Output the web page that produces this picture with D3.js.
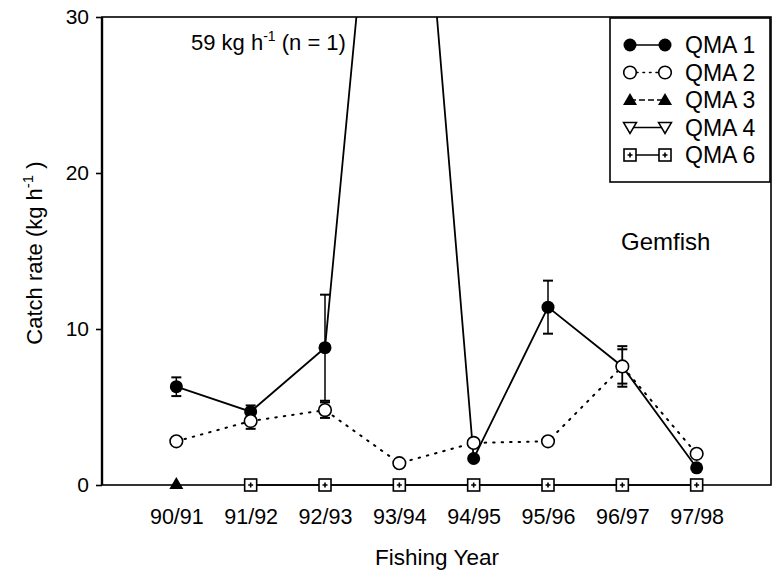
<!DOCTYPE html>
<html>
<head>
<meta charset="utf-8">
<script src="https://cdn.jsdelivr.net/npm/d3@7/dist/d3.min.js"></script>
<style>
  html, body { margin: 0; padding: 0; background: #fff; }
  svg { display: block; font-family: "Liberation Sans", Arial, sans-serif; }
</style>
</head>
<body>
<svg id="chart" width="774" height="570"></svg>
<script>
// Fishing years on the x axis
const years = ["90/91", "91/92", "92/93", "93/94", "94/95", "95/96", "96/97", "97/98"];
// Mean catch rate (kg/h) per QMA, null where there is no estimate
const qma1 = [6.3, 4.7, 8.8, 59, 1.7, 11.4, 7.6, 1.1];
const qma1Err = [0.6, 0.4, 3.4, null, null, 1.7, 1.3, null];
const qma2 = [2.8, 4.1, 4.8, 1.4, 2.7, 2.8, 7.6, 2.0];
const qma2Err = [null, 0.5, 0.5, null, null, null, 1.1, null];
const qma3 = [0, null, null, null, null, null, null, null];
const qma4 = [null, null, null, null, null, null, null, null];
const qma6 = [null, 0, 0, 0, 0, 0, 0, 0];
const yTicks = [0, 10, 20, 30];
const legendLabels = ["QMA 1", "QMA 2", "QMA 3", "QMA 4", "QMA 6"];

const svg = d3.select("#chart");
const plotLeft = 102, plotRight = 771, plotTop = 17, plotBottom = 485;

const x = d3.scaleLinear().domain([-1, years.length]).range([plotLeft, plotRight]);
const y = d3.scaleLinear().domain([0, 30]).range([plotBottom, plotTop]);

// clip region for the plotted series
svg.append("defs").append("clipPath").attr("id", "plotClip")
  .append("rect").attr("x", plotLeft).attr("y", plotTop)
  .attr("width", plotRight - plotLeft).attr("height", plotBottom - plotTop + 10);

// frame
svg.append("rect").attr("x", plotLeft).attr("y", plotTop)
  .attr("width", plotRight - plotLeft).attr("height", plotBottom - plotTop)
  .attr("fill", "none").attr("stroke", "#000").attr("stroke-width", 1.6);
svg.append("line").attr("x1", plotLeft).attr("x2", plotLeft).attr("y1", plotTop).attr("y2", plotBottom)
  .attr("stroke", "#000").attr("stroke-width", 2.4);

// y axis
const yAxis = d3.axisLeft(y).tickValues(yTicks).tickSize(6).tickPadding(7).tickFormat(d3.format("d"));
const gy = svg.append("g").attr("transform", `translate(${plotLeft},0)`).call(yAxis);
gy.select(".domain").remove();
gy.selectAll(".tick line").attr("stroke-width", 1.6);
gy.selectAll(".tick text").attr("font-size", 21).attr("font-family", "Liberation Sans, Arial, sans-serif").attr("fill", "#000");

// x axis
const xAxis = d3.axisBottom(x).tickValues(d3.range(years.length)).tickFormat(i => years[i]).tickSize(4).tickPadding(20);
const gx = svg.append("g").attr("transform", `translate(0,${plotBottom})`).call(xAxis);
gx.select(".domain").remove();
gx.selectAll(".tick line").attr("stroke-width", 1.4);
gx.selectAll(".tick text").attr("font-size", 21.5).attr("font-family", "Liberation Sans, Arial, sans-serif").attr("fill", "#000");

// axis titles
svg.append("text").attr("x", 437).attr("y", 565).attr("text-anchor", "middle")
  .attr("font-size", 22.5).text("Fishing Year");
const yt = svg.append("text").attr("transform", "translate(42,253) rotate(-90)")
  .attr("text-anchor", "middle").attr("font-size", 22);
yt.append("tspan").text("Catch rate (kg h");
yt.append("tspan").attr("dy", -9).attr("font-size", 15).text("-1");
yt.append("tspan").attr("dy", 9).text(" )");

const plot = svg.append("g").attr("clip-path", "url(#plotClip)");

function seriesLine(values) {
  return d3.line().defined(d => d != null).x((d, i) => x(i)).y(d => y(d))(values);
}
function errorBars(values, errs) {
  values.forEach((v, i) => {
    const e = errs[i];
    if (v == null || e == null) return;
    const g = plot.append("g").attr("stroke", "#000").attr("stroke-width", 1.5);
    g.append("line").attr("x1", x(i)).attr("x2", x(i)).attr("y1", y(v - e)).attr("y2", y(v + e));
    [v - e, v + e].forEach(w => g.append("line").attr("x1", x(i) - 5).attr("x2", x(i) + 5)
      .attr("y1", y(w)).attr("y2", y(w)).attr("stroke-width", 2));
  });
}

// symbol drawers (used for both the plot and the legend)
function drawFilledCircle(g, cx, cy) {
  g.append("circle").attr("cx", cx).attr("cy", cy).attr("r", 6.5).attr("fill", "#000");
}
function drawOpenCircle(g, cx, cy) {
  g.append("circle").attr("cx", cx).attr("cy", cy).attr("r", 6.3).attr("fill", "#fff")
    .attr("stroke", "#000").attr("stroke-width", 1.6);
}
function drawTriangleUp(g, cx, cy) {
  g.append("path").attr("d", `M${cx},${cy - 7} L${cx + 7},${cy + 5} L${cx - 7},${cy + 5} Z`).attr("fill", "#000");
}
function drawTriangleDown(g, cx, cy) {
  g.append("path").attr("d", `M${cx - 6.5},${cy - 5} L${cx + 6.5},${cy - 5} L${cx},${cy + 6} Z`)
    .attr("fill", "#fff").attr("stroke", "#000").attr("stroke-width", 1.5);
}
function drawBoxCross(g, cx, cy) {
  g.append("rect").attr("x", cx - 6).attr("y", cy - 6).attr("width", 12).attr("height", 12)
    .attr("fill", "#fff").attr("stroke", "#000").attr("stroke-width", 1.6);
  g.append("path").attr("d", `M${cx - 2.5},${cy} H${cx + 2.5} M${cx},${cy - 2.5} V${cy + 2.5}`)
    .attr("stroke", "#000").attr("stroke-width", 1.6);
}

// QMA 6 along zero
plot.append("path").attr("d", seriesLine(qma6)).attr("fill", "none").attr("stroke", "#000").attr("stroke-width", 1.6);
// QMA 3 / QMA 4 lines
plot.append("path").attr("d", seriesLine(qma3)).attr("fill", "none").attr("stroke", "#000").attr("stroke-width", 1.5).attr("stroke-dasharray", "8,4");
plot.append("path").attr("d", seriesLine(qma4)).attr("fill", "none").attr("stroke", "#000").attr("stroke-width", 1.5);

// QMA 1
errorBars(qma1, qma1Err);
plot.append("path").attr("d", seriesLine(qma1)).attr("fill", "none").attr("stroke", "#000").attr("stroke-width", 1.8);
qma1.forEach((v, i) => { if (v != null) drawFilledCircle(plot, x(i), y(v)); });

// QMA 2
errorBars(qma2, qma2Err);
plot.append("path").attr("d", seriesLine(qma2)).attr("fill", "none").attr("stroke", "#000")
  .attr("stroke-width", 2).attr("stroke-dasharray", "1.5,7").attr("stroke-linecap", "round");
qma2.forEach((v, i) => { if (v != null) drawOpenCircle(plot, x(i), y(v)); });

// markers on the zero line
const zeroG = svg.append("g");
qma6.forEach((v, i) => { if (v != null) drawBoxCross(zeroG, x(i), y(v)); });
qma3.forEach((v, i) => { if (v != null) drawTriangleUp(zeroG, x(i), y(v) - 1); });
qma4.forEach((v, i) => { if (v != null) drawTriangleDown(zeroG, x(i), y(v)); });

// annotation for the off-scale 93/94 value
const ann = svg.append("text").attr("x", 191).attr("y", 50).attr("font-size", 22);
ann.append("tspan").text(`${qma1[3]} kg h`);
ann.append("tspan").attr("dy", -9).attr("font-size", 14).text("-1");
ann.append("tspan").attr("dy", 9).text(" (n = 1)");

svg.append("text").attr("x", 621).attr("y", 250).attr("font-size", 24).text("Gemfish");

// legend
const lg = svg.append("g");
lg.append("rect").attr("x", 610).attr("y", 18).attr("width", 160).attr("height", 164)
  .attr("fill", "#fff").attr("stroke", "#000").attr("stroke-width", 1.6);
const drawers = [drawFilledCircle, drawOpenCircle, drawTriangleUp, drawTriangleDown, drawBoxCross];
const dashes = [null, "1.5,5", "6,3", null, null];
legendLabels.forEach((lab, k) => {
  const cy = 45 + k * 27.5;
  const ln = lg.append("line").attr("x1", 630).attr("x2", 665).attr("y1", cy).attr("y2", cy)
    .attr("stroke", "#000").attr("stroke-width", 1.6);
  if (dashes[k]) ln.attr("stroke-dasharray", dashes[k]).attr("stroke-linecap", k === 1 ? "round" : "butt");
  drawers[k](lg, 630, cy);
  drawers[k](lg, 665, cy);
  lg.append("text").attr("x", 685).attr("y", cy + 8).attr("font-size", 23).text(lab);
});
</script>
</body>
</html>
